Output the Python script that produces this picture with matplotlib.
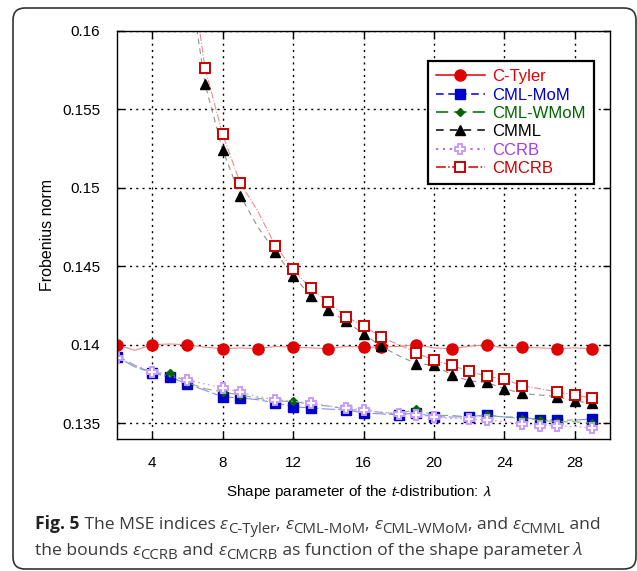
import matplotlib
matplotlib.use('Agg')
import matplotlib.pyplot as plt
from matplotlib.patches import FancyBboxPatch

plt.rcParams['font.family'] = ['Liberation Sans', 'DejaVu Sans']

# shape parameter lambda
lam = list(range(2, 30))
lam_bounds = list(range(6, 30))

c_tyler = [0.1400, 0.13965, 0.1400, 0.14005, 0.1400, 0.13985, 0.13975, 0.1398,
           0.13975, 0.1399, 0.13985, 0.1398, 0.13975, 0.1399, 0.13985, 0.13985,
           0.1399, 0.1400, 0.1398, 0.13975, 0.1399, 0.1400, 0.1398, 0.13985,
           0.1398, 0.13975, 0.1398, 0.13975]
cml_mom = [0.13922, 0.1386, 0.1382, 0.13795, 0.1375, 0.1371, 0.13668, 0.13662,
           0.1365, 0.1363, 0.13605, 0.13598, 0.1359, 0.13586, 0.13566, 0.1356,
           0.13554, 0.13566, 0.13541, 0.1354, 0.13541, 0.13554, 0.1354, 0.13541,
           0.13522, 0.13522, 0.1352, 0.13528]
cml_wmom = [0.1393, 0.1387, 0.1382, 0.1382, 0.1376, 0.1372, 0.1370, 0.1368,
            0.1366, 0.1364, 0.1364, 0.1362, 0.1361, 0.1359, 0.1358, 0.1357,
            0.1356, 0.1359, 0.1355, 0.1355, 0.1354, 0.1355, 0.1354, 0.1353,
            0.1352, 0.1351, 0.1351, 0.1350]
ccrb = [0.13916, 0.1387, 0.13827, 0.1380, 0.13776, 0.1375, 0.13725, 0.1370,
        0.1367, 0.13649, 0.1364, 0.1363, 0.1361, 0.13598, 0.13586, 0.1357,
        0.1356, 0.13554, 0.13541, 0.1353, 0.13528, 0.13522, 0.1351, 0.13496,
        0.13484, 0.13484, 0.1348, 0.13471]
cmml = [0.1641, 0.1566, 0.1524, 0.1495, 0.1475, 0.1459, 0.1444, 0.1431,
        0.1422, 0.1415, 0.1407, 0.1399, 0.1393, 0.1388, 0.1387, 0.1381,
        0.1377, 0.1376, 0.1372, 0.1369, 0.1368, 0.1367, 0.1364, 0.1363]
cmcrb = [0.1655, 0.1576, 0.1534, 0.1503, 0.1485, 0.1463, 0.1448, 0.1436,
         0.1427, 0.1418, 0.1412, 0.1405, 0.1400, 0.1395, 0.1390, 0.1387,
         0.1383, 0.1380, 0.1378, 0.1374, 0.1372, 0.1370, 0.1368, 0.1366]

# lambda values where a marker is drawn
marks_tyler = [2, 4, 6, 8, 10, 12, 14, 16, 17, 19, 21, 23, 25, 27, 29]
marks_mom = [2, 4, 5, 6, 8, 9, 11, 12, 13, 15, 16, 18, 19, 20, 22, 23, 25, 26, 27, 29]
marks_ccrb = [2, 4, 6, 8, 9, 11, 13, 15, 16, 18, 19, 20, 22, 23, 25, 26, 27, 29]
marks_bounds = [7, 8, 9, 11, 12, 13, 14, 15, 16, 17, 19, 20, 21, 22, 23, 24, 25, 27, 28, 29]

labels = ['C-Tyler', 'CML-MoM', 'CML-WMoM', 'CMML', 'CCRB', 'CMCRB']

# caption pieces: (text, kind) with b=bold, i=italic, s=subscript
caption = [
    [('Fig. 5', 'b'), (' The MSE indices ', 'n'), ('\u03b5', 'i'), ('C-Tyler', 's'),
     (', ', 'n'), ('\u03b5', 'i'), ('CML-MoM', 's'), (', ', 'n'), ('\u03b5', 'i'),
     ('CML-WMoM', 's'), (', and ', 'n'), ('\u03b5', 'i'), ('CMML', 's'), (' and', 'n')],
    [('the bounds ', 'n'), ('\u03b5', 'i'), ('CCRB', 's'), (' and ', 'n'), ('\u03b5', 'i'),
     ('CMCRB', 's'), (' as function of the shape parameter ', 'n'), ('\u03bb', 'i')],
]


def idx(xs, marks):
    return [xs.index(m) for m in marks]


def caption_line(fig, x, y, parts):
    r = fig.canvas.get_renderer()
    for txt, kind in parts:
        kw = dict(family='Open Sans', color='#3a3a3a', fontsize=12.6, va='baseline')
        dy = 0
        if kind == 'b':
            kw['weight'] = 'bold'
            kw['color'] = '#222222'
        elif kind == 'i':
            kw['style'] = 'italic'
        elif kind == 's':
            kw['fontsize'] = 10.8
            dy = -4
        t = fig.text(x, y + dy / fig.bbox.height, txt, **kw)
        x += t.get_window_extent(r).width / fig.bbox.width


fig = plt.figure(figsize=(6.37, 5.71), dpi=100)
ax = fig.add_axes([0.1837, 0.2312, 0.7739, 0.715])

series = [
    # x, y, marks, linestyle, line colour, colour, marker, face, ms
    (lam, c_tyler, marks_tyler, '-', '#f08a8a', '#e00000', 'o', '#e00000', 8),
    (lam, cml_mom, marks_mom, (0, (5, 3, 12, 3)), '#8a8aff', '#0000cc', 's', '#0000cc', 7),
    (lam, cml_wmom, marks_mom, (0, (8, 4)), '#80b080', '#006600', 'D', '#006600', 4.5),
    (lam_bounds, cmml, marks_bounds, (0, (5, 4)), '#909090', '#000000', '^', '#000000', 7),
    (lam, ccrb, marks_ccrb, (0, (1.5, 3)), '#c890ff', '#a040e8', 'P', 'white', 7.5),
    (lam_bounds, cmcrb, marks_bounds, '-.', '#f08a8a', '#cc0000', 's', 'white', 7),
]

for (xs, ys, mk, ls, lc, c, m, fc, ms), lab in zip(series, labels):
    mec = '#c89cff' if lab == 'CCRB' else c
    ax.plot(xs, ys, linestyle=ls, color=lc, lw=0.8, marker=m, ms=ms,
            mfc=fc, mec=mec, mew=1.4 if fc == 'white' else 1.0,
            markevery=idx(xs, mk), label=lab)

ax.set_xlim(2, 30)
ax.set_ylim(0.134, 0.16)
ax.set_xticks([4, 8, 12, 16, 20, 24, 28])
ax.set_yticks([0.135, 0.14, 0.145, 0.15, 0.155, 0.16])
ax.set_yticklabels(['0.135', '0.14', '0.145', '0.15', '0.155', '0.16'])
ax.grid(True, color='black', linestyle=(0, (1.5, 3)), lw=1.0)
ax.tick_params(direction='in', length=5, width=1, labelsize=11, pad=12,
               top=True, right=True)
for s in ax.spines.values():
    s.set_linewidth(1.0)

ax.set_ylabel('Frobenius norm', fontsize=11.5)
ax.yaxis.set_label_coords(-0.125, 0.5)
ax.set_xlabel(r'Shape parameter of the $t$-distribution: $\lambda$', fontsize=11,
              math_fontfamily='stixsans')
ax.xaxis.set_label_coords(0.49, -0.108)

leg = ax.legend(loc='upper right', bbox_to_anchor=(0.9675, 0.926),
                borderaxespad=0, fancybox=False, framealpha=1,
                edgecolor='black', fontsize=12, labelspacing=0.2,
                handlelength=2.9, borderpad=0.5, handletextpad=0.45)
leg.get_frame().set_linewidth(1.6)
for h, t, s in zip(leg.legend_handles, leg.get_texts(), series):
    h.set_color(s[5])
    h.set_linewidth(1.1)
    t.set_color(s[5])

caption_line(fig, 35 / 637, 1 - 529 / 571, caption[0])
caption_line(fig, 35 / 637, 1 - 555 / 571, caption[1])

# rounded frame around the figure
frame = FancyBboxPatch((0.13, 0.02), 6.23, 5.61,
                       boxstyle='round,pad=0,rounding_size=0.12',
                       transform=fig.dpi_scale_trans, fill=False,
                       edgecolor='#333333', lw=1.2)
fig.patches.append(frame)

fig.savefig('out.png', dpi=100)
